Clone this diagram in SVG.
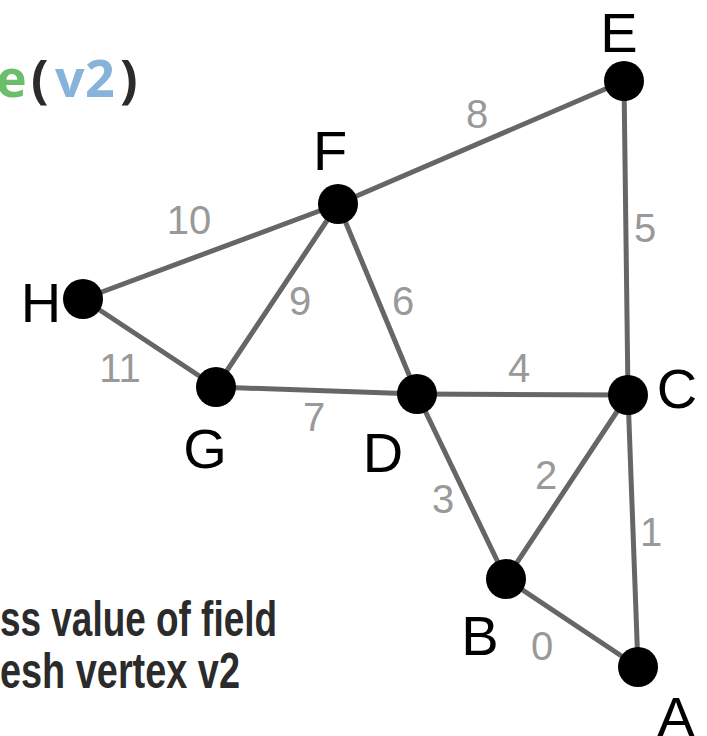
<svg xmlns="http://www.w3.org/2000/svg" width="707" height="736" viewBox="0 0 707 736">
<style>
.edge{stroke:#666;stroke-width:5;stroke-linecap:round}
.node{fill:#000}
.nl{font-family:"Liberation Sans",Arial,sans-serif;font-size:56px;fill:#000;text-anchor:middle}
.el{font-family:"Liberation Sans",Arial,sans-serif;font-size:40px;fill:#999;text-anchor:middle}
.code{font-family:"Open Sans",sans-serif;font-weight:bold;font-size:52px}
.cap{font-family:"Liberation Sans",Arial,sans-serif;font-weight:bold;font-size:50px;fill:#2b2b2b}
</style>
<rect width="707" height="736" fill="#fff"/>
<g id="title">
<text class="code" y="97"><tspan x="-4" fill="#6cbf6a">e</tspan><tspan x="31" fill="#2b2b2b">(</tspan><tspan x="55" fill="#85b3da">v</tspan><tspan x="85" fill="#85b3da">2</tspan><tspan x="120" fill="#2b2b2b">)</tspan></text>
</g>
<g id="caption">
<text class="cap" x="0" y="636" textLength="277" lengthAdjust="spacingAndGlyphs">ss value of field</text>
<text class="cap" x="0" y="688" textLength="240" lengthAdjust="spacingAndGlyphs">esh vertex v2</text>
</g>
<g id="connectors">
<line class="edge" x1="506" y1="579" x2="638" y2="667"/>
<line class="edge" x1="628" y1="395" x2="638" y2="667"/>
<line class="edge" x1="506" y1="579" x2="628" y2="395"/>
<line class="edge" x1="417" y1="394" x2="506" y2="579"/>
<line class="edge" x1="417" y1="394" x2="628" y2="395"/>
<line class="edge" x1="624" y1="81" x2="628" y2="395"/>
<line class="edge" x1="338" y1="204" x2="417" y2="394"/>
<line class="edge" x1="216" y1="387" x2="417" y2="394"/>
<line class="edge" x1="338" y1="204" x2="624" y2="81"/>
<line class="edge" x1="216" y1="387" x2="338" y2="204"/>
<line class="edge" x1="83" y1="299" x2="338" y2="204"/>
<line class="edge" x1="83" y1="299" x2="216" y2="387"/>
<text class="el" x="542" y="660">0</text>
<text class="el" x="651" y="546">1</text>
<text class="el" x="546" y="489">2</text>
<text class="el" x="443" y="513">3</text>
<text class="el" x="519" y="382">4</text>
<text class="el" x="645" y="242">5</text>
<text class="el" x="403" y="315">6</text>
<text class="el" x="314" y="431">7</text>
<text class="el" x="477" y="128">8</text>
<text class="el" x="300" y="315">9</text>
<text class="el" x="189" y="234">10</text>
<text class="el" x="120" y="382">11</text>
</g>
<g id="node-A"><circle class="node" cx="638" cy="667" r="20"/><text class="nl" x="676" y="736">A</text></g>
<g id="node-B"><circle class="node" cx="506" cy="579" r="20"/><text class="nl" x="480" y="655">B</text></g>
<g id="node-C"><circle class="node" cx="628" cy="395" r="20"/><text class="nl" x="677" y="408">C</text></g>
<g id="node-D"><circle class="node" cx="417" cy="394" r="20"/><text class="nl" x="383" y="472">D</text></g>
<g id="node-E"><circle class="node" cx="624" cy="81" r="20"/><text class="nl" x="619" y="52">E</text></g>
<g id="node-F"><circle class="node" cx="338" cy="204" r="20"/><text class="nl" x="330" y="170">F</text></g>
<g id="node-G"><circle class="node" cx="216" cy="387" r="20"/><text class="nl" x="205" y="468">G</text></g>
<g id="node-H"><circle class="node" cx="83" cy="299" r="20"/><text class="nl" x="41" y="322">H</text></g>
</svg>
